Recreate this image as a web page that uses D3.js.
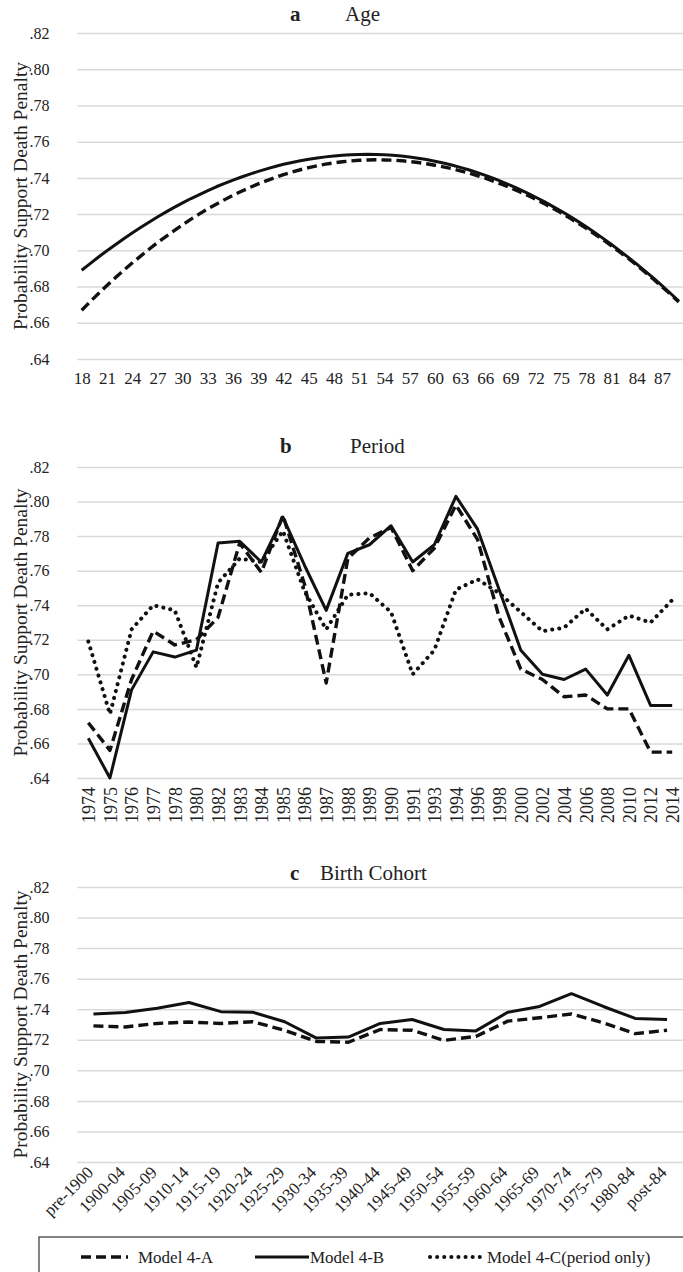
<!DOCTYPE html>
<html>
<head>
<meta charset="utf-8">
<script src="https://cdn.jsdelivr.net/npm/d3@7/dist/d3.min.js"></script>
<style>
  body { margin: 0; background: #fff; }
  svg text { font-family: "Liberation Serif", "DejaVu Serif", serif; fill: #222; }
</style>
</head>
<body>
<script>
// ---- data ----
var ages = d3.range(18, 90);
var ageTicks = [18, 21, 24, 27, 30, 33, 36, 39, 42, 45, 48, 51, 54, 57, 60, 63, 66, 69, 72, 75, 78, 81, 84, 87];
var ageA = [.6669, .6716, .6762, .6806, .6848, .6890, .6930, .6968, .7006, .7042, .7076, .7109, .7141, .7172,
  .7201, .7229, .7255, .7280, .7304, .7326, .7347, .7367, .7385, .7402, .7418, .7432, .7445, .7457, .7467,
  .7476, .7483, .7489, .7494, .7497, .7499, .7500, .7499, .7498, .7495, .7490, .7485, .7478, .7470, .7461,
  .7451, .7439, .7427, .7413, .7398, .7381, .7364, .7345, .7325, .7304, .7281, .7258, .7233, .7207, .7179,
  .7151, .7121, .7090, .7058, .7025, .6990, .6955, .6918, .6879, .6840, .6799, .6758, .6715];
var ageB = [.6890, .6927, .6963, .6998, .7031, .7064, .7096, .7126, .7155, .7184, .7211, .7237, .7262, .7286,
  .7308, .7330, .7351, .7370, .7388, .7405, .7421, .7436, .7450, .7463, .7475, .7485, .7495, .7503, .7510,
  .7516, .7521, .7525, .7528, .7529, .7530, .7529, .7528, .7525, .7521, .7515, .7509, .7501, .7492, .7482,
  .7471, .7458, .7445, .7430, .7414, .7397, .7378, .7359, .7338, .7316, .7293, .7269, .7243, .7217, .7189,
  .7160, .7130, .7098, .7066, .7032, .6997, .6961, .6924, .6885, .6846, .6805, .6763, .6720];

var years = ["1974", "1975", "1976", "1977", "1978", "1980", "1982", "1983", "1984", "1985", "1986", "1987",
  "1988", "1989", "1990", "1991", "1993", "1994", "1996", "1998", "2000", "2002", "2004", "2006", "2008",
  "2010", "2012", "2014"];
var periodA = [.672, .656, .697, .725, .717, .720, .733, .776, .759, .792, .752, .695, .767, .779, .785, .760,
  .773, .798, .778, .733, .703, .697, .687, .688, .680, .680, .655, .655];
var periodB = [.663, .640, .691, .713, .710, .714, .776, .777, .765, .791, .763, .737, .770, .775, .786, .765,
  .775, .803, .784, .749, .714, .700, .697, .703, .688, .711, .682, .682];
var periodC = [.719, .677, .726, .740, .737, .704, .753, .767, .765, .783, .748, .726, .746, .747, .736, .700,
  .714, .749, .755, .747, .736, .725, .727, .738, .726, .734, .730, .743];

var cohorts = ["pre-1900", "1900-04", "1905-09", "1910-14", "1915-19", "1920-24", "1925-29", "1930-34",
  "1935-39", "1940-44", "1945-49", "1950-54", "1955-59", "1960-64", "1965-69", "1970-74", "1975-79",
  "1980-84", "post-84"];
var cohortA = [.7291, .7284, .7307, .7316, .7307, .7318, .7262, .7189, .7184, .7267, .7262, .7196, .7222,
  .7322, .7344, .7369, .7311, .7240, .7262];
var cohortB = [.7369, .7378, .7407, .7444, .7384, .7380, .7318, .7211, .7218, .7307, .7333, .7267, .7258,
  .7380, .7418, .7502, .7418, .7340, .7333];

var yTicks = [.64, .66, .68, .70, .72, .74, .76, .78, .80, .82];
var yTitle = "Probability Support Death Penalty";
var legendNames = ["Model 4-A", "Model 4-B", "Model 4-C(period only)"];

// ---- layout ----
var width = 683, height = 1272;
var left = 77.5, right = 683;

var svg = d3.select("body").append("svg")
  .attr("width", width)
  .attr("height", height);

var styles = {
  A: { dash: "10,5", w: 3.4, cap: "butt" },
  B: { dash: null, w: 3, cap: "butt" },
  C: { dash: "0.1,7", w: 4, cap: "round" }
};

function drawPanel(p) {
  var g = svg.append("g");

  var x = d3.scalePoint().domain(p.cats).range([left, right]).padding(0.5);
  var y = d3.scaleLinear().domain([.64, .82]).range([p.bottom, p.top]);

  // gridlines + y labels
  var yAxis = g.append("g")
    .attr("transform", `translate(${left},0)`)
    .call(d3.axisLeft(y).tickValues(yTicks).tickSize(-(right - left)).tickPadding(28)
      .tickFormat(d => d3.format(".2f")(d).slice(1)));
  yAxis.attr("font-family", null);
  yAxis.select(".domain").remove();
  yAxis.selectAll("line").attr("stroke", "#d9d9d9").attr("stroke-width", 1.5);
  yAxis.selectAll("text").attr("font-size", 16).attr("fill", "#333");

  // y title
  g.append("text")
    .attr("transform", `translate(20, ${(p.top + p.bottom) / 2}) rotate(-90)`)
    .attr("text-anchor", "middle")
    .attr("dy", "0.35em")
    .attr("font-size", 19.5)
    .text(yTitle);

  // panel title
  g.append("text").attr("x", p.lx).attr("y", p.ty).attr("font-size", 21)
    .attr("font-weight", "bold").text(p.letter);
  g.append("text").attr("x", p.nx).attr("y", p.ty).attr("font-size", 21).text(p.name);

  // x labels
  var xAxis = g.append("g")
    .attr("transform", `translate(0,${p.bottom})`)
    .call(d3.axisBottom(x).tickValues(p.ticks).tickSize(0).tickPadding(p.pad));
  xAxis.attr("font-family", null);
  xAxis.select(".domain").remove();
  var xt = xAxis.selectAll("text").attr("font-size", p.xfs).attr("fill", "#333");
  if (p.rot === -90) {
    xt.attr("transform", "rotate(-90)").attr("text-anchor", "end")
      .attr("x", -p.pad).attr("y", 0).attr("dy", "0.35em");
  } else if (p.rot === -45) {
    xt.attr("transform", "rotate(-45)").attr("text-anchor", "end")
      .attr("x", -p.pad).attr("y", p.pad * 0.3).attr("dy", "0.35em");
  }

  // lines
  var line = d3.line().x((d, i) => x(p.cats[i])).y(d => y(d));
  p.series.forEach(function(s) {
    var st = styles[s.key];
    g.append("path")
      .datum(s.values)
      .attr("d", line)
      .attr("fill", "none")
      .attr("stroke", "#111")
      .attr("stroke-width", st.w)
      .attr("stroke-linecap", st.cap)
      .attr("stroke-linejoin", "round")
      .attr("stroke-dasharray", st.dash);
  });
}

drawPanel({ cats: ages, ticks: ageTicks, top: 33, bottom: 359, letter: "a", name: "Age",
  lx: 290, nx: 345, ty: 21, pad: 13, xfs: 17, rot: 0,
  series: [{ key: "A", values: ageA }, { key: "B", values: ageB }] });

drawPanel({ cats: years, ticks: years, top: 467, bottom: 778, letter: "b", name: "Period",
  lx: 280, nx: 350, ty: 453, pad: 9, xfs: 18, rot: -90,
  series: [{ key: "A", values: periodA }, { key: "B", values: periodB }, { key: "C", values: periodC }] });

drawPanel({ cats: cohorts, ticks: cohorts, top: 887, bottom: 1162, letter: "c", name: "Birth Cohort",
  lx: 290, nx: 320, ty: 880, pad: 8, xfs: 17, rot: -45,
  series: [{ key: "A", values: cohortA }, { key: "B", values: cohortB }] });

// ---- legend ----
var lg = svg.append("g");
lg.append("rect")
  .attr("x", 39).attr("y", 1237).attr("width", 700).attr("height", 60)
  .attr("fill", "none").attr("stroke", "#333").attr("stroke-width", 1.2);

var legendItems = [
  { key: "A", x1: 81, x2: 128, tx: 138 },
  { key: "B", x1: 255, x2: 309, tx: 310 },
  { key: "C", x1: 430, x2: 480, tx: 487 }
];
legendItems.forEach(function(it, i) {
  var st = styles[it.key];
  lg.append("line")
    .attr("x1", it.x1).attr("x2", it.x2).attr("y1", 1257).attr("y2", 1257)
    .attr("stroke", "#111").attr("stroke-width", st.w)
    .attr("stroke-linecap", st.cap)
    .attr("stroke-dasharray", st.dash);
  lg.append("text")
    .attr("x", it.tx).attr("y", 1257).attr("dy", "0.35em")
    .attr("font-size", 17)
    .text(legendNames[i]);
});
</script>
</body>
</html>
